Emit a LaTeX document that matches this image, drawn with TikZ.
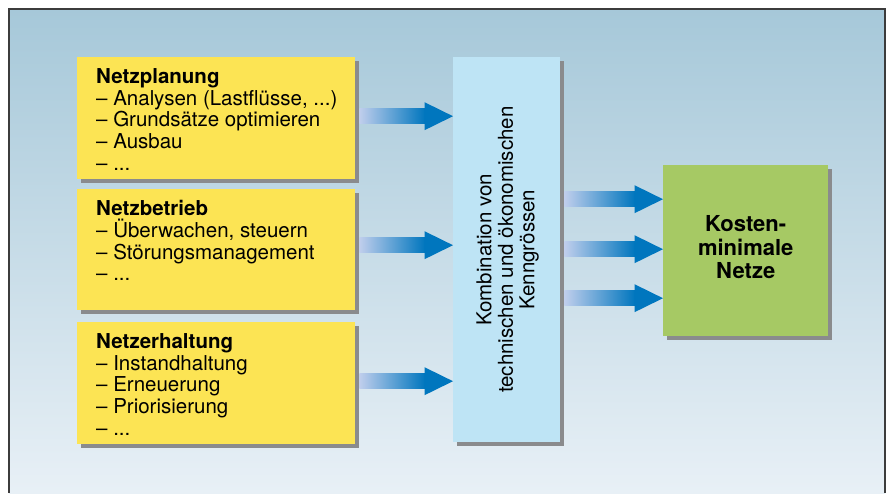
\documentclass[tikz,border=0pt]{standalone}
\usepackage{fontspec}
\setmainfont{TeX Gyre Heros}
\usetikzlibrary{calc}
\definecolor{bgTop}{RGB}{166,200,217}
\definecolor{bgBot}{RGB}{232,240,246}
\definecolor{frameC}{RGB}{60,60,60}
\definecolor{boxyellow}{RGB}{252,228,84}
\definecolor{boxblue}{RGB}{190,228,245}
\definecolor{boxgreen}{RGB}{166,201,100}
\definecolor{shadowgray}{RGB}{138,139,141}
\definecolor{arrL}{RGB}{192,206,236}
\definecolor{arrR}{RGB}{0,118,190}
\newcommand\fatarrow[2]{%
  \shade[left color=arrL, right color=arrR] ($(#1)+(0,-7.5)$) rectangle ($(#2)+(-28,7.5)$);
  \fill[arrR] ($(#2)+(-28.5,-14)$) -- (#2) -- ($(#2)+(-28.5,14)$) -- cycle;}
\tikzset{
  shadowed/.style={preaction={fill=shadowgray, transform canvas={xshift=4pt,yshift=-4pt}}},
  panel/.style={shadowed, draw=none, anchor=north west, inner sep=0pt},
  listtext/.style={anchor=north west, inner sep=0pt, align=left,
    font=\fontsize{20.5}{21.7}\selectfont},
}
\begin{document}
\begin{tikzpicture}[x=1pt,y=-1pt]
\useasboundingbox (0,0) rectangle (891,493);
\shade[top color=bgTop, bottom color=bgBot] (9,9) rectangle (885,493);
\draw[frameC, line width=1.3pt] (9,493) -- (9,9) -- (885,9) -- (885,493);

% left boxes
\node[panel, fill=boxyellow, minimum width=278pt, minimum height=122pt] (b1) at (77,57) {};
\node[panel, fill=boxyellow, minimum width=278pt, minimum height=121pt] (b2) at (77,189) {};
\node[panel, fill=boxyellow, minimum width=278pt, minimum height=122pt] (b3) at (77,322) {};

\node[listtext] (t1) at ($(b1.north west)+(19,11.2)$)
  {\textbf{Netzplanung}\\– Analysen (Lastflüsse, ...)\\– Grundsätze optimieren\\– Ausbau\\– ...};
\node[listtext] (t2) at ($(b2.north west)+(19,11.2)$)
  {\textbf{Netzbetrieb}\\– Überwachen, steuern\\– Störungsmanagement\\– ...};
\node[listtext] (t3) at ($(b3.north west)+(19,11.2)$)
  {\textbf{Netzerhaltung}\\– Instandhaltung\\– Erneuerung\\– Priorisierung\\– ...};

% middle box
\node[panel, fill=boxblue, minimum width=107pt, minimum height=385pt] (mid) at (453,57) {};
\node[rotate=90, align=center, inner sep=0pt, font=\fontsize{20.5}{21.5}\selectfont] (midtext)
  at ($(mid.center)+(1,0)$) {Kombination von\\technischen und ökonomischen\\Kenngrössen};

% right box
\node[panel, fill=boxgreen, minimum width=165pt, minimum height=171pt] (res) at (663,165) {};
\node[align=center, inner sep=0pt, font=\fontsize{22}{23.5}\selectfont\bfseries] (restext)
  at ($(res.center)+(0,-3.5)$) {Kosten-\\minimale\\Netze};

% arrows left
\coordinate (s1) at ($(b1.east)+(4,-2)$);
\coordinate (e1) at (mid.west |- s1);
\coordinate (s2) at ($(b2.east)+(4,-4.5)$);
\coordinate (e2) at (mid.west |- s2);
\coordinate (s3) at ($(b3.east)+(4,-2)$);
\coordinate (e3) at (mid.west |- s3);
\fatarrow{s1}{e1}
\fatarrow{s2}{e2}
\fatarrow{s3}{e3}

% arrows right
\coordinate (s4) at ($(mid.east |- res.center)+(4,-51.5)$);
\coordinate (e4) at (res.west |- s4);
\coordinate (s5) at ($(mid.east |- res.center)+(4,-1.5)$);
\coordinate (e5) at (res.west |- s5);
\coordinate (s6) at ($(mid.east |- res.center)+(4,47.5)$);
\coordinate (e6) at (res.west |- s6);
\fatarrow{s4}{e4}
\fatarrow{s5}{e5}
\fatarrow{s6}{e6}
\end{tikzpicture}
\end{document}
